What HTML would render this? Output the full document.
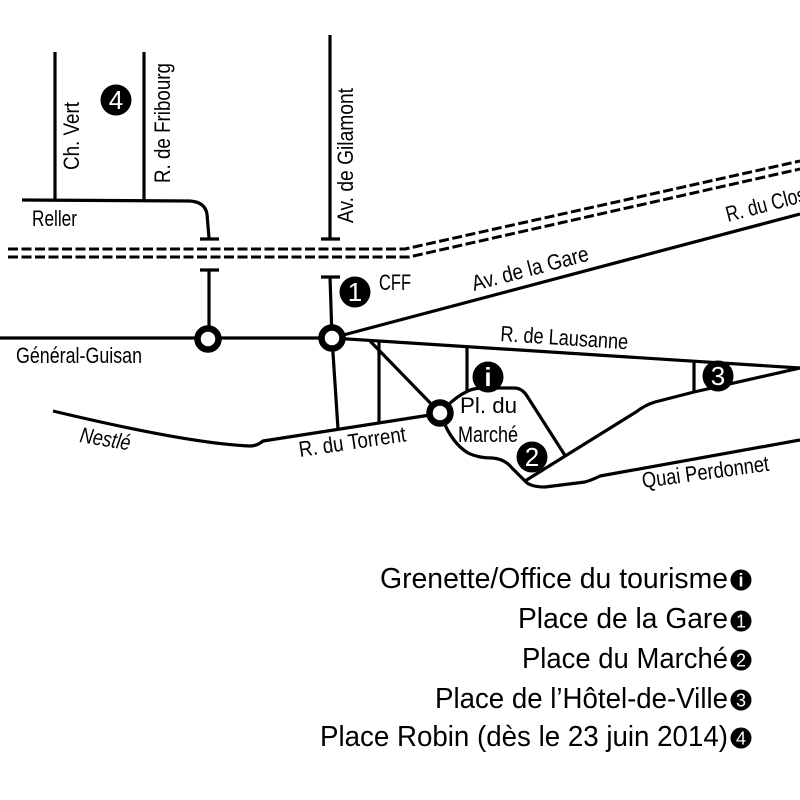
<!DOCTYPE html>
<html><head><meta charset="utf-8"><style>
html,body{margin:0;padding:0;background:#fff;}
svg{display:block}
.l{font-family:"Liberation Sans Narrow","Liberation Sans",sans-serif;font-size:22px;fill:#000;}
.g{font-family:"Liberation Sans Narrow","Liberation Sans",sans-serif;font-size:29px;fill:#000;}
.n{font-family:"Liberation Sans Narrow","Liberation Sans",sans-serif;fill:#fff;text-anchor:middle;}
</style></head>
<body>
<svg width="800" height="800" viewBox="0 0 800 800" xmlns="http://www.w3.org/2000/svg">
<rect width="800" height="800" fill="#fff"/>
<g fill="none" stroke="#000" stroke-width="3.2" stroke-linejoin="round">
  <path d="M55,52V200 M144,52V200"/>
  <path d="M22,200 L190,201 Q205,202 207,214 L209,238"/>
  <path d="M200,239H219 M200,270H219 M209,270V339"/>
  <path d="M330,35V239 M321,239H340 M321,277H340 M330,277 L332,338"/>
  <path d="M0,338H332"/>
  <path d="M332,338 L800,214"/>
  <path d="M332,338 L800,368"/>
  <path d="M332,338 L338,429"/>
  <path d="M379,341 V423"/>
  <path d="M370,341 L440,413"/>
  <path d="M467,347 V391"/>
  <path d="M694,361 V393"/>
  <path d="M53,411 C120,427 200,444 250,446 Q257,446 263,441 L430,415"/>
  <path d="M446,407 Q457,396 468,391 Q474,388 484,388 L514,388 Q522,388 527,396 L566,457"/>
  <path d="M443,420 Q452,443 468,453 Q478,458 492,458 Q505,459 512,468 L525,481"/>
  <path d="M800,368 L694,392 L655,402 Q645,405 636,412 L525,481"/>
  <path d="M525,481 Q530,487 545,487 L585,482 Q592,480 600,476 L800,440"/>
  <path d="M8,249 H405 L800,161" stroke-dasharray="10 3.5" stroke-width="3"/>
  <path d="M8,257 H409 L800,169" stroke-dasharray="10 3.5" stroke-width="3"/>
</g>
<g fill="#fff" stroke="#000" stroke-width="6.5">
  <circle cx="208" cy="339" r="10.5"/>
  <circle cx="332" cy="338" r="10.5"/>
  <circle cx="440" cy="413" r="10.5"/>
</g>
<g fill="#000">
  <circle cx="116" cy="100" r="15.5"/>
  <circle cx="355" cy="292" r="15.5"/>
  <circle cx="488" cy="377" r="15.5"/>
  <circle cx="532" cy="457" r="15.5"/>
  <circle cx="718" cy="376" r="15.5"/>
</g>
<g class="n" font-size="26">
  <text x="116" y="109">4</text>
  <text x="355" y="301">1</text>
  <text x="488" y="386" font-weight="bold">i</text>
  <text x="532" y="466">2</text>
  <text x="718" y="385">3</text>
</g>

<text class="l" transform="translate(79,170) rotate(-90)" textLength="68" lengthAdjust="spacingAndGlyphs">Ch. Vert</text>
<text class="l" transform="translate(170,183) rotate(-90)" textLength="120" lengthAdjust="spacingAndGlyphs">R. de Fribourg</text>
<text class="l" transform="translate(353,223) rotate(-90)" textLength="135" lengthAdjust="spacingAndGlyphs">Av. de Gilamont</text>
<text class="l" x="32" y="226" textLength="45" lengthAdjust="spacingAndGlyphs">Reller</text>
<text class="l" x="16" y="363" textLength="126" lengthAdjust="spacingAndGlyphs">Général-Guisan</text>
<text class="l" x="379" y="290" textLength="32" lengthAdjust="spacingAndGlyphs">CFF</text>
<text class="l" transform="translate(474,291) rotate(-14.8)" textLength="120" lengthAdjust="spacingAndGlyphs">Av. de la Gare</text>
<text class="l" transform="translate(728,222) rotate(-14.8)" textLength="82" lengthAdjust="spacingAndGlyphs">R. du Clos</text>
<text class="l" transform="translate(500,341) rotate(3.7)" textLength="128" lengthAdjust="spacingAndGlyphs">R. de Lausanne</text>
<text class="l" font-style="italic" transform="translate(79,442) rotate(9.5)" textLength="51" lengthAdjust="spacingAndGlyphs">Nestlé</text>
<text class="l" transform="translate(300,457) rotate(-8.4)" textLength="108" lengthAdjust="spacingAndGlyphs">R. du Torrent</text>
<text class="l" x="460" y="413" textLength="57" lengthAdjust="spacingAndGlyphs">Pl. du</text>
<text class="l" x="458" y="442" textLength="60" lengthAdjust="spacingAndGlyphs">Marché</text>
<text class="l" transform="translate(643,488) rotate(-7.8)" textLength="128" lengthAdjust="spacingAndGlyphs">Quai Perdonnet</text>

<text class="g" x="380" y="588" textLength="348" lengthAdjust="spacingAndGlyphs">Grenette/Office du tourisme</text>
<text class="g" x="518" y="628" textLength="210" lengthAdjust="spacingAndGlyphs">Place de la Gare</text>
<text class="g" x="522" y="668" textLength="206" lengthAdjust="spacingAndGlyphs">Place du Marché</text>
<text class="g" x="435" y="708" textLength="293" lengthAdjust="spacingAndGlyphs">Place de l’Hôtel-de-Ville</text>
<text class="g" x="320" y="746" textLength="408" lengthAdjust="spacingAndGlyphs">Place Robin (dès le 23 juin 2014)</text>

<g fill="#000">
  <circle cx="741" cy="580" r="10.5"/>
  <circle cx="741" cy="621" r="10.5"/>
  <circle cx="741" cy="660" r="10.5"/>
  <circle cx="741" cy="700" r="10.5"/>
  <circle cx="741" cy="738" r="10.5"/>
</g>
<g class="n" font-size="18">
  <text x="741" y="586.5" font-weight="bold">i</text>
  <text x="741" y="627.5">1</text>
  <text x="741" y="666.5">2</text>
  <text x="741" y="706.5">3</text>
  <text x="741" y="744.5">4</text>
</g>
</svg>
</body></html>
